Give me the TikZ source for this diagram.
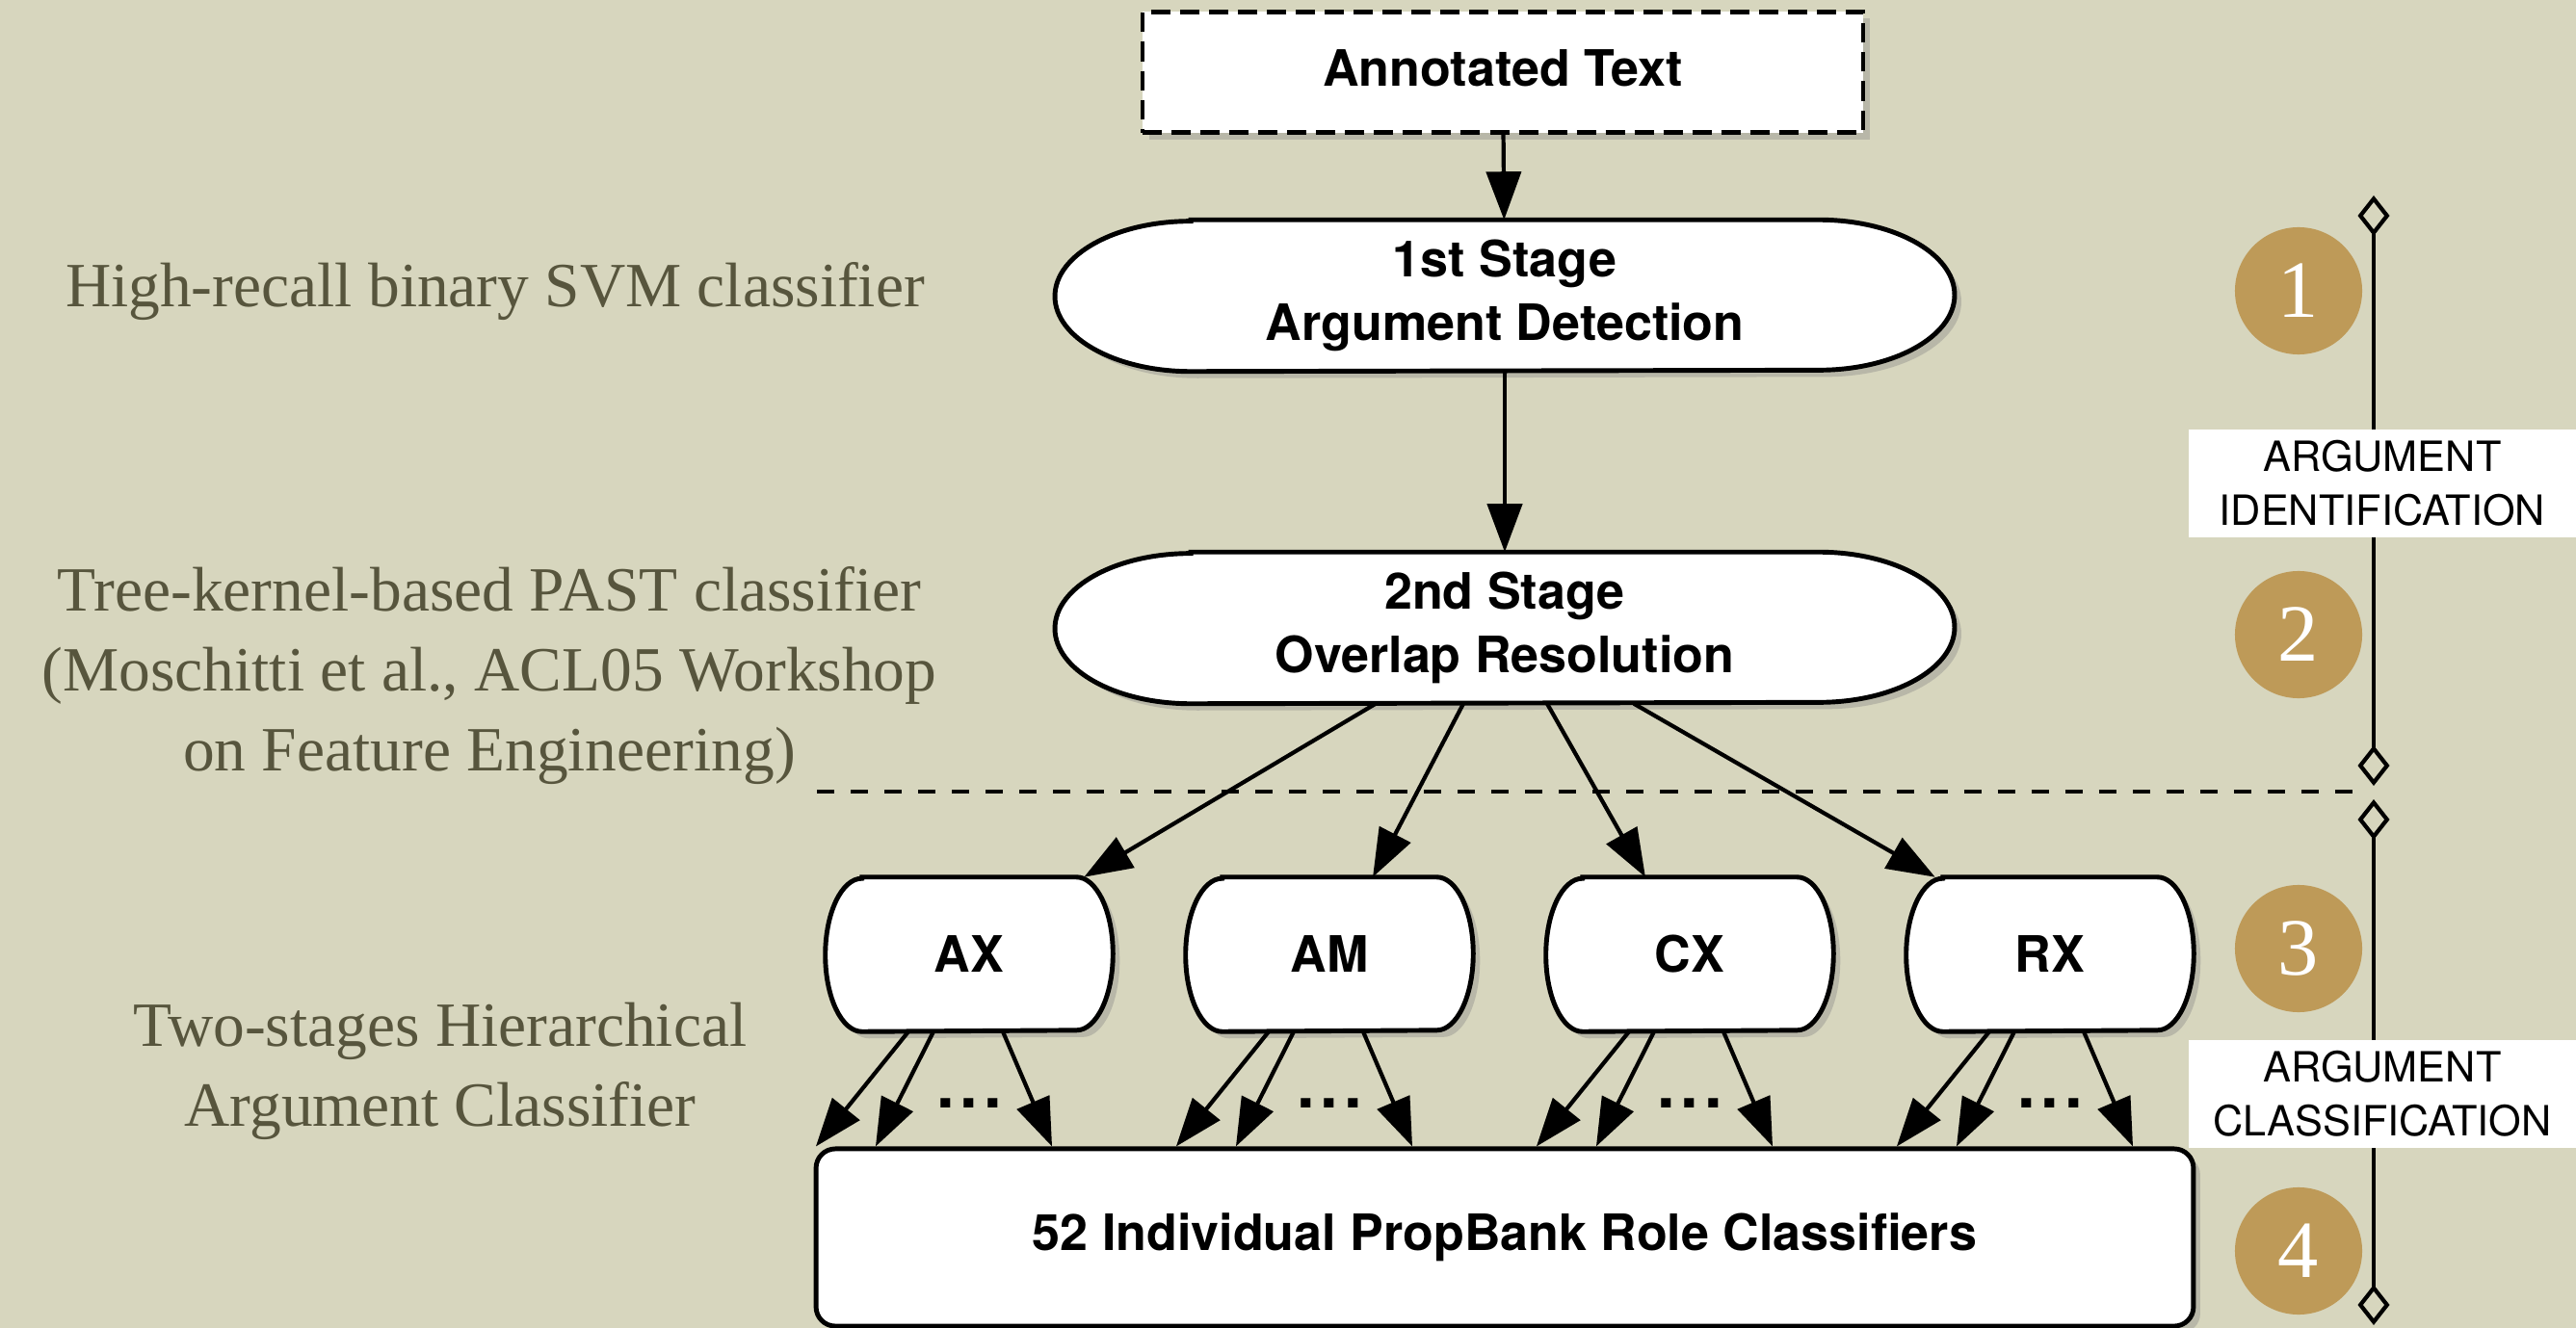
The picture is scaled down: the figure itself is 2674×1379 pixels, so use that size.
\documentclass[tikz,border=0pt]{standalone}
\usepackage{tikz}
\usepackage{fontspec}
\usetikzlibrary{arrows.meta,shadows}
\newfontfamily\helv{TeX Gyre Heros}
\newfontfamily\oldserif{Liberation Serif}
\newcommand\stagefont{\helv\bfseries\fontsize{14.8pt}{18.8pt}\selectfont}
\newcommand\phasefont{\helv\fontsize{12.3pt}{15.9pt}\selectfont}
\newcommand\notefont{\oldserif\fontsize{18.6pt}{23.6pt}\selectfont}
\newcommand\discfont{\oldserif\fontsize{24pt}{24pt}\selectfont}
\definecolor{paper}{RGB}{215,214,190}
\definecolor{gold}{RGB}{190,154,88}
\definecolor{ink}{RGB}{87,85,61}
\pgfdeclarelayer{paper}
\pgfdeclarelayer{boxes}
\pgfsetlayers{paper,boxes,main}
\def\capsule(#1)(#2:#3){\begin{pgfonlayer}{boxes}\draw[capsule line] ([xshift=#2]#1.north west) -- ([xshift=-#2]#1.north east) arc[start angle=90,end angle=-90,x radius=#2,y radius=#3] -- ([xshift=#2]#1.south west) arc[start angle=270,end angle=90,x radius=#2,y radius=#3] -- cycle;\end{pgfonlayer}}
\tikzset{
	capsule line/.style={draw, fill=white, line width=1.4pt, drop shadow={shadow xshift=0.07cm, shadow yshift=-0.07cm, opacity=0.35}},
	stage/.style={minimum width=9.32cm, minimum height=1.56cm, inner sep=0pt, align=center, font=\stagefont},
	group/.style={minimum width=2.97cm, minimum height=1.59cm, inner sep=0pt, font=\stagefont},
	source/.style={draw, fill=white, line width=1.2pt, dash pattern=on 0.2cm off 0.1cm, minimum width=7.47cm, minimum height=1.25cm, font=\stagefont, drop shadow={shadow xshift=0.07cm, shadow yshift=-0.07cm, opacity=0.35}},
	roles/.style={draw, fill=white, line width=1.4pt, rounded corners=0.2cm, minimum width=14.29cm, minimum height=1.84cm, font=\stagefont, drop shadow={shadow xshift=0.07cm, shadow yshift=-0.07cm, opacity=0.35}},
	phase/.style={fill=white, minimum width=4.02cm, minimum height=1.12cm, inner sep=0pt, align=center, font=\phasefont},
	disc/.style={circle, fill=gold, minimum size=1.32cm, inner sep=0pt, text=white, font=\discfont},
	note/.style={align=center, text=ink, font=\notefont},
	ellip/.style={inner sep=0pt, font=\helv\bfseries\fontsize{19pt}{19pt}\selectfont},
	arr/.style={line width=1.2pt, -{Triangle[length=0.5cm,width=0.36cm]}},
	bracket/.style={line width=1.2pt, {Diamond[open,length=0.42cm,width=0.33cm]}-{Diamond[open,length=0.42cm,width=0.33cm]}},
	sepline/.style={line width=1.2pt, dash pattern=on 0.18cm off 0.17cm}
}
\begin{document}
\begin{tikzpicture}[x=0.01cm, y=-0.01cm]
				%%%%% START %%%%%
				\useasboundingbox (0,0) rectangle (2674,1379);
				\begin{pgfonlayer}{paper}
					\fill[paper] (0,0) rectangle (2674,1379);
				\end{pgfonlayer}
				
				% left notes
				\node[note] (svm) at (514,303) {High-recall binary SVM classifier};
				\node[note] (past) at (508,702) {Tree-kernel-based PAST classifier\\(Moschitti et al., ACL05 Workshop\\on Feature Engineering)};
				\node[note] (hier) at (457,1112) {Two-stages Hierarchical\\Argument Classifier};
				
				% pipeline
				\node[source] (text) at (1560,75) {\raisebox{0.08cm}{Annotated Text}};
				\node[stage] (detect) at (1562,307) {1st Stage\\Argument Detection};
				\capsule(detect)(1.41cm:0.78cm)
				\node[stage] (overlap) at (1562,652) {2nd Stage\\Overlap Resolution};
				\capsule(overlap)(1.41cm:0.78cm)
				\node[roles] (roles) at (1562,1285) {52 Individual PropBank Role Classifiers};
				
				\draw[arr] (text) -- (detect);
				\draw[arr] (detect) -- (overlap);
				
				\coordinate (cutL) at (848,822);
				\coordinate (cutR) at (2443,822);
				\draw[sepline] (cutL) -- (cutR);
				
				\foreach \cls/\px in {AX/1006, AM/1380, CX/1754, RX/2128} {
					\node[group] (\cls) at (\px,991) {\cls};
					\capsule(\cls)(0.38cm:0.795cm)
					\node[ellip] (dots\cls) at ([yshift=-0.74cm]\cls.south) {.\kern0.06cm.\kern0.06cm.};
					\foreach \s/\e in {-0.63/-1.59, -0.37/-0.97, 0.35/0.86}
						\draw[arr] ([xshift=\s cm]\cls.south) -- ([xshift=\e cm]\cls.south |- roles.north);
				}
				
				\draw[arr] ([xshift=-1.34cm]overlap.south) -- ([xshift=-0.3cm]AX.north east);
				\draw[arr] ([xshift=-0.43cm]overlap.south) -- ([xshift=0.45cm]AM.north);
				\draw[arr] ([xshift=0.44cm]overlap.south) -- ([xshift=-0.46cm]CX.north);
				\draw[arr] ([xshift=1.34cm]overlap.south) -- ([xshift=0.3cm]RX.north west);
				
				% phases on the right
				\coordinate (idtop) at (2464,203);
				\coordinate (idbot) at (2464,816);
				\coordinate (cltop) at (2464,830);
				\coordinate (clbot) at (2464,1376);
				\draw[bracket] (idtop) -- (idbot);
				\draw[bracket] (cltop) -- (clbot);
				\node[phase] (ident) at (2473,502) {ARGUMENT\\IDENTIFICATION};
				\node[phase] (classif) at (2473,1136) {ARGUMENT\\CLASSIFICATION};
				
				\node[disc] (one) at (2386,302) {1};
				\node[disc] (two) at (2386,659) {2};
				\node[disc] (three) at (2386,985) {3};
				\node[disc] (four) at (2386,1299) {4};
				%%%%% END %%%%%
\end{tikzpicture}
\end{document}
